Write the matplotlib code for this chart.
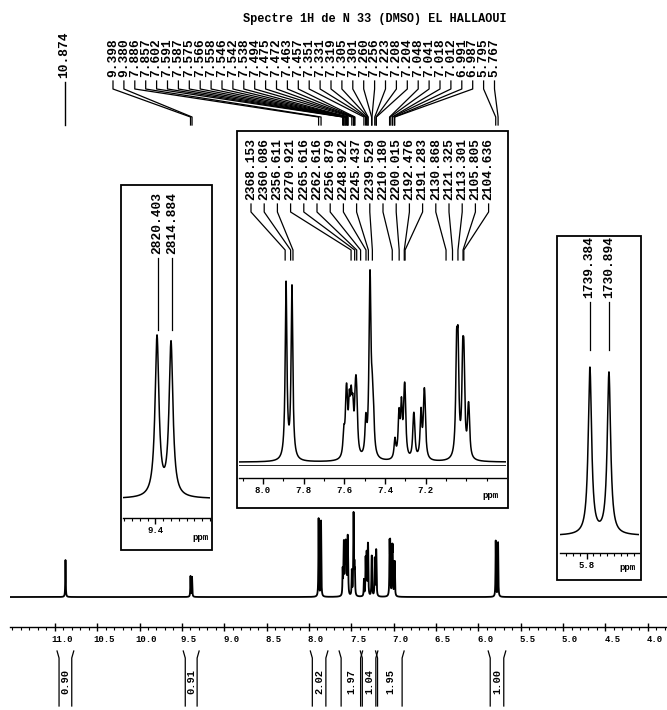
import numpy as np
import matplotlib
matplotlib.use('Agg')
import matplotlib.pyplot as plt
from matplotlib.ticker import FixedLocator, MultipleLocator, FormatStrFormatter
from matplotlib.patches import Rectangle
from matplotlib.transforms import ScaledTranslation

W, H, DPI = 667, 710, 100
plt.rcParams['font.family'] = ['Liberation Mono', 'DejaVu Sans Mono']
plt.rcParams['font.weight'] = 'bold'

# =============================================
# DONNEES
# =============================================
title = 'Spectre 1H de N 33 (DMSO) EL HALLAOUI'
spec_freq = 300.13  # MHz

big_label = '10.874'
top_labels = ['9.398', '9.380', '7.886', '7.857', '7.602', '7.591', '7.587', '7.575',
              '7.566', '7.558', '7.546', '7.542', '7.538', '7.494', '7.475', '7.472',
              '7.463', '7.457', '7.351', '7.331', '7.319', '7.305', '7.301', '7.260',
              '7.256', '7.223', '7.208', '7.204', '7.048', '7.041', '7.018', '7.012',
              '6.991', '6.987', '5.795', '5.767']

# raies : deplacement (ppm)
line_ppm = [10.874] + [float(s) for s in top_labels]
main_amp = [0.45,
            0.25, 0.24,
            0.95, 0.92,
            0.30, 0.45, 0.45, 0.55, 0.55, 0.45, 0.40, 0.45, 0.35,
            0.30, 0.62, 0.62, 0.30, 0.25,
            0.20, 0.45, 0.50, 0.45, 0.45, 0.35, 0.35, 0.45, 0.40, 0.40,
            0.60, 0.60, 0.52, 0.52, 0.30, 0.30,
            0.68, 0.66]
zoom_amp = [0.50,
            0.27, 0.26,
            0.92, 0.90,
            0.12, 0.20, 0.20, 0.24, 0.24, 0.20, 0.18, 0.20, 0.16,
            0.18, 0.51, 0.51, 0.20, 0.18,
            0.10, 0.22, 0.26, 0.22, 0.22, 0.14, 0.14, 0.24, 0.22, 0.20,
            0.50, 0.50, 0.42, 0.42, 0.16, 0.16,
            0.68, 0.66]

center_labels = ['2368.153', '2360.086', '2356.611', '2270.921', '2265.616', '2262.616',
                 '2256.879', '2248.922', '2245.437', '2239.529', '2210.180', '2200.015',
                 '2192.476', '2191.283', '2130.868', '2121.325', '2113.301', '2105.805',
                 '2104.636']
left_labels = ['2820.403', '2814.884']
right_labels = ['1739.384', '1730.894']

main_ticks = [11.0, 10.5, 10.0, 9.5, 9.0, 8.5, 8.0, 7.5, 7.0, 6.5, 6.0, 5.5, 5.0, 4.5, 4.0]
center_ticks = [8.0, 7.8, 7.6, 7.4, 7.2]
left_ticks = [9.4]
right_ticks = [5.8]

integral_start = [10.95, 9.46, 7.96, 7.62, 7.37, 7.19, 5.86]
integral_end = [10.80, 9.32, 7.80, 7.39, 7.21, 6.90, 5.70]
integral_values = ['0.90', '0.91', '2.02', '1.97', '1.04', '1.95', '1.00']


def spectrum(ppm, amps, gamma):
    y = np.zeros_like(ppm)
    for c, a in zip(line_ppm, amps):
        y += a * gamma ** 2 / ((ppm - c) ** 2 + gamma ** 2)
    return y


def box(x0, y0, x1, y1):
    # rectangle en pixels (origine en haut a gauche) -> coordonnees figure
    return [x0 / W, 1 - y1 / H, (x1 - x0) / W, (y1 - y0) / H]


fig = plt.figure(figsize=(W / DPI, H / DPI), dpi=DPI)
ov = fig.add_axes([0, 0, 1, 1])
ov.set_xlim(0, W)
ov.set_ylim(H, 0)
ov.axis('off')


def to_ov_x(ax, ppm):
    ppm = np.atleast_1d(np.asarray(ppm, dtype=float))
    disp = ax.transData.transform(np.column_stack([ppm, np.zeros_like(ppm)]))
    return ov.transData.inverted().transform(disp)[:, 0]


def style_axis(ax, out_px, major, minor, fs):
    for s in ['top', 'left', 'right']:
        ax.spines[s].set_visible(False)
    ax.spines['bottom'].set_position(('outward', out_px * 72 / DPI))
    ax.spines['bottom'].set_linewidth(1.0)
    ax.set_facecolor('none')
    ax.set_yticks([])
    ax.xaxis.set_major_locator(FixedLocator(major))
    ax.xaxis.set_minor_locator(MultipleLocator(minor))
    ax.xaxis.set_major_formatter(FormatStrFormatter('%.1f'))
    ax.tick_params(axis='x', which='major', direction='out', length=4, width=1,
                   labelsize=fs, pad=2)
    ax.tick_params(axis='x', which='minor', direction='out', length=2, width=0.8)


# =============================================
# SPECTRE PRINCIPAL
# =============================================
MAIN_LEFT, MAIN_RIGHT = 11.529, 3.773
ax = fig.add_axes(box(10, 500, 667, 600))
ppm = np.linspace(MAIN_LEFT, MAIN_RIGHT, 40000)
y = spectrum(ppm, main_amp, 0.003)
ax.plot(ppm, y, color='black', lw=1.3)
ax.set_xlim(MAIN_LEFT, MAIN_RIGHT)
m = y.max()
ax.set_ylim(-0.035 * m, 1.14 * m)
style_axis(ax, 27, main_ticks, 0.1, 6.5)
ax.tick_params(axis='x', which='major', direction='inout', length=6, pad=3)
for t in ax.xaxis.get_major_ticks():
    t.label1.set_transform(t.label1.get_transform()
                           + ScaledTranslation(7 / DPI, 0, fig.dpi_scale_trans))

# titre et etiquettes du haut
ov.text(243, 19, title, fontsize=8.6, ha='left', va='center')

x_big = to_ov_x(ax, [10.874])[0]
ov.text(x_big - 1, 78, big_label, rotation=90, fontsize=9.3, ha='center', va='bottom')
ov.plot([x_big, x_big], [82, 125], color='black', lw=1.0)

peak_x = to_ov_x(ax, line_ppm[1:])
for i, (lab, px) in enumerate(zip(top_labels, peak_x)):
    lx = 113 + i * 10.9
    ov.text(lx, 77, lab, rotation=90, fontsize=9.3, ha='center', va='bottom')
    ov.plot([lx, lx, px, px], [81, 89, 117, 125], color='black', lw=0.9)

# integrales
xs = to_ov_x(ax, integral_start)
xe = to_ov_x(ax, integral_end)
for x0, x1, val in zip(xs, xe, integral_values):
    ov.plot([x0 - 2, x0, x0], [651, 658, 706], color='black', lw=0.9)
    ov.plot([x1 + 2, x1, x1], [651, 658, 706], color='black', lw=0.9)
    ov.text((x0 + x1) / 2, 682, val, rotation=90, fontsize=7.5, ha='center', va='center')


# =============================================
# AGRANDISSEMENTS
# =============================================
def inset(frame, area, xl, ticks, minor, out_px, gamma, ppm_text, extra_line=False):
    fx0, fy0, fx1, fy1 = frame
    ov.add_patch(Rectangle((fx0, fy0), fx1 - fx0, fy1 - fy0, fill=False, lw=1.3,
                           edgecolor='black'))
    ia = fig.add_axes(box(*area))
    grid = np.linspace(xl[0], xl[1], 8000)
    s = spectrum(grid, zoom_amp, gamma)
    ia.plot(grid, s, color='black', lw=1.1)
    ia.set_xlim(*xl)
    mm = s.max()
    ia.set_ylim(-0.02 * mm, 1.03 * mm)
    style_axis(ia, out_px, ticks, minor, 6.5)
    if extra_line:
        ia.axhline(-0.02 * mm, color='black', lw=1.2)
    ov.text(ppm_text[0], ppm_text[1], 'ppm', fontsize=6.5, ha='center', va='center')
    return ia


# bloc aromatique
ca = inset((237, 131, 508, 508), (239, 264, 506, 466), (8.1172, 6.8052), center_ticks,
           0.1, 12, 0.005, (490, 495), extra_line=True)
cx = to_ov_x(ca, [float(f) / spec_freq for f in center_labels])
for i, (lab, px) in enumerate(zip(center_labels, cx)):
    lx = 251 + i * 13.2
    ov.text(lx, 200, lab, rotation=90, fontsize=9.3, ha='center', va='bottom')
    ov.plot([lx, lx, px, px], [204, 212, 250, 260], color='black', lw=0.9)

# doublet 9.39
la = inset((121, 185, 212, 550), (123, 330, 210, 502), (9.4417, 9.3299), left_ticks,
           0.01, 16, 0.003, (200, 537))
lx = to_ov_x(la, [float(f) / spec_freq for f in left_labels])
for lab, px in zip(left_labels, lx):
    ov.text(px, 254, lab, rotation=90, fontsize=9.3, ha='center', va='bottom')
    ov.plot([px, px], [258, 330], color='black', lw=0.9)

# doublet 5.78
ra = inset((557, 236, 641, 580), (560, 362, 639, 539), (5.839, 5.7228), right_ticks,
           0.01, 14, 0.003, (627, 568))
rx = to_ov_x(ra, [float(f) / spec_freq for f in right_labels])
for lab, px in zip(right_labels, rx):
    ov.text(px, 298, lab, rotation=90, fontsize=9.3, ha='center', va='bottom')
    ov.plot([px, px], [302, 350], color='black', lw=0.9)

fig.savefig('out.png', dpi=DPI)
